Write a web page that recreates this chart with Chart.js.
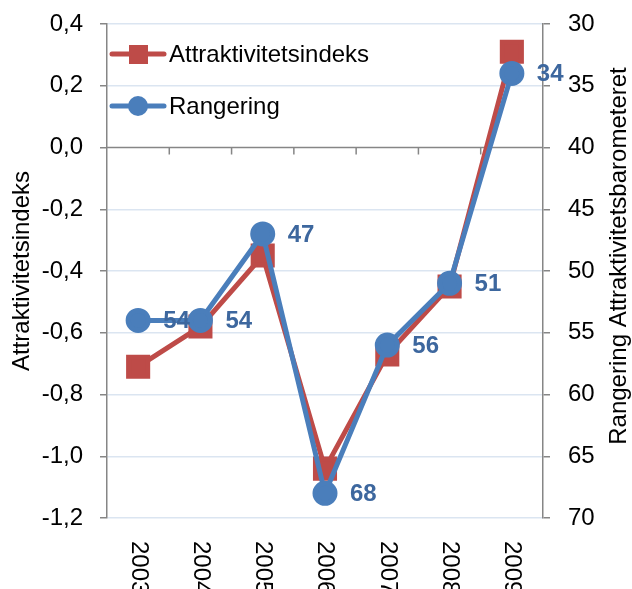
<!DOCTYPE html>
<html>
<head>
<meta charset="utf-8">
<script src="https://cdn.jsdelivr.net/npm/chart.js@4/dist/chart.umd.min.js"></script>
<style>
  body { margin: 0; background: #fff; }
  canvas { display: block; }
</style>
</head>
<body>
<canvas id="myChart" width="632" height="589"></canvas>
<script>
// Years on the x axis
const years = ["2003", "2004", "2005", "2006", "2007", "2008", "2009"];

// Index values (left axis)
const indeks = [-0.71, -0.58, -0.35, -1.04, -0.67, -0.45, 0.31];

// Ranking (right axis, reversed)
const rangering = [54, 54, 47, 68, 56, 51, 34];

const FONT = "'Liberation Sans', Arial, sans-serif";
const RED = "#be4b48";
const BLUE = "#4a7ebb";
const LABEL_BLUE = "#3d679e";
const AXIS_GREY = "#868686";
const GRID_BLUE = "#dbe5f1";

// Comma as decimal separator on the left axis
function comma(v) {
    return v.toFixed(1).replace(".", ",").replace("-0,0", "0,0");
}

// Fixed axis widths, and no extra room reserved for the end labels
function fixWidth(w) {
    return function (s) {
        s.width = w;
        s.paddingTop = 0;
        s.paddingBottom = 0;
    };
}

// Draws the zero line, category ticks, year labels, axis titles, value labels and legend
const extras = {
    id: "extras",
    beforeDatasetsDraw(chart) {
        const ctx = chart.ctx;
        const y = chart.scales.y;
        const area = chart.chartArea;
        const y0 = y.getPixelForValue(0);
        ctx.save();
        ctx.strokeStyle = AXIS_GREY;
        ctx.lineWidth = 1.5;
        ctx.beginPath();
        ctx.moveTo(area.left, y0);
        ctx.lineTo(area.right, y0);
        const step = (area.right - area.left) / years.length;
        for (let i = 1; i < years.length; i++) {
            const px = area.left + step * i;
            ctx.moveTo(px, y0);
            ctx.lineTo(px, y0 + 7);
        }
        ctx.stroke();
        ctx.restore();
    },
    afterDraw(chart) {
        const ctx = chart.ctx;
        const x = chart.scales.x;
        const y1 = chart.scales.y1;
        const area = chart.chartArea;
        ctx.save();

        // year labels, turned to read downwards
        ctx.fillStyle = "#000";
        ctx.font = "24px " + FONT;
        ctx.textAlign = "left";
        ctx.textBaseline = "middle";
        years.forEach(function (yr, i) {
            ctx.save();
            ctx.translate(x.getPixelForValue(i), area.bottom + 23);
            ctx.rotate(Math.PI / 2);
            ctx.fillText(yr, 0, 0);
            ctx.restore();
        });

        // axis titles
        ctx.textAlign = "center";
        ctx.save();
        ctx.translate(22, 271);
        ctx.rotate(-Math.PI / 2);
        ctx.fillText("Attraktivitetsindeks", 0, 0);
        ctx.restore();
        ctx.save();
        ctx.translate(619, 256);
        ctx.rotate(-Math.PI / 2);
        ctx.fillText("Rangering Attraktivitetsbarometeret", 0, 0);
        ctx.restore();

        // ranking values next to the points
        ctx.fillStyle = LABEL_BLUE;
        ctx.font = "bold 24px " + FONT;
        ctx.textAlign = "left";
        rangering.forEach(function (v, i) {
            ctx.fillText(String(v), x.getPixelForValue(i) + 25, y1.getPixelForValue(v) + 1);
        });

        // legend
        ctx.lineWidth = 5;
        ctx.lineCap = "round";
        ctx.strokeStyle = RED;
        ctx.beginPath();
        ctx.moveTo(112, 54);
        ctx.lineTo(164, 54);
        ctx.stroke();
        ctx.fillStyle = RED;
        ctx.fillRect(129, 45, 19, 19);
        ctx.strokeStyle = BLUE;
        ctx.beginPath();
        ctx.moveTo(112, 106);
        ctx.lineTo(164, 106);
        ctx.stroke();
        ctx.fillStyle = BLUE;
        ctx.beginPath();
        ctx.arc(138, 106, 10, 0, Math.PI * 2);
        ctx.fill();

        ctx.fillStyle = "#000";
        ctx.font = "24px " + FONT;
        ctx.textBaseline = "middle";
        ctx.fillText("Attraktivitetsindeks", 169, 55);
        ctx.fillText("Rangering", 169, 107);
        ctx.restore();
    }
};

new Chart("myChart", {
    type: "line",
    data: {
        labels: years,
        datasets: [{
            label: "Rangering",
            data: rangering,
            yAxisID: "y1",
            borderColor: BLUE,
            backgroundColor: BLUE,
            borderWidth: 5,
            pointStyle: "circle",
            pointRadius: 10,
            pointHoverRadius: 10,
            tension: 0,
            order: 0
        }, {
            label: "Attraktivitetsindeks",
            data: indeks,
            yAxisID: "y",
            borderColor: RED,
            backgroundColor: RED,
            borderWidth: 5,
            pointStyle: "rect",
            pointRadius: 13.5,
            pointHoverRadius: 13.5,
            tension: 0,
            order: 1
        }]
    },
    options: {
        responsive: false,
        animation: false,
        devicePixelRatio: 1,
        layout: { padding: { top: 24 } },
        plugins: {
            legend: { display: false },
            tooltip: { enabled: false }
        },
        scales: {
            x: {
                offset: true,
                grid: { display: false },
                border: { display: false },
                ticks: { display: false },
                afterFit: function (s) { s.height = 71; }
            },
            y: {
                position: "left",
                min: -1.2,
                max: 0.4,
                ticks: {
                    stepSize: 0.2,
                    color: "#000",
                    padding: 17,
                    font: { family: FONT, size: 24 },
                    callback: function (v) { return comma(v); }
                },
                grid: {
                    color: function (c) {
                        return Math.abs(c.tick.value) < 1e-9 ? "rgba(0,0,0,0)" : GRID_BLUE;
                    },
                    lineWidth: 1.5,
                    tickColor: AXIS_GREY,
                    tickLength: 7
                },
                border: { color: AXIS_GREY, width: 1.5 },
                afterFit: fixWidth(107)
            },
            y1: {
                position: "right",
                reverse: true,
                min: 30,
                max: 70,
                ticks: {
                    stepSize: 5,
                    color: "#000",
                    padding: 18,
                    font: { family: FONT, size: 24 }
                },
                grid: {
                    drawOnChartArea: false,
                    tickColor: AXIS_GREY,
                    tickLength: 7,
                    lineWidth: 1.5
                },
                border: { color: AXIS_GREY, width: 1.5 },
                afterFit: fixWidth(89)
            }
        }
    },
    plugins: [extras]
});
</script>
</body>
</html>
